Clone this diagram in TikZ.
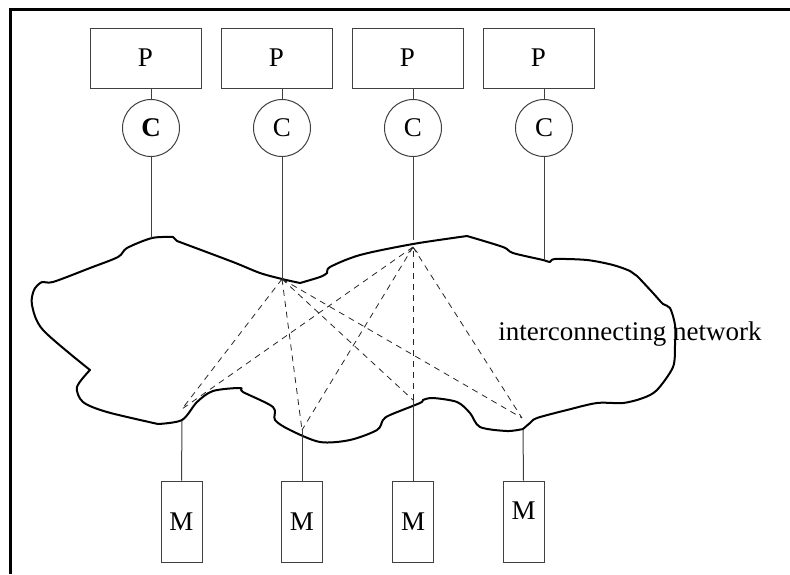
\documentclass[tikz,border=0pt]{standalone}
\usepackage{fontspec}
\setmainfont{Liberation Serif}
\usetikzlibrary{arrows.meta}
\tikzset{
    pbox/.style={draw=black!75, line width=1pt, minimum width=111pt, minimum height=60pt, inner sep=0pt},
    cnode/.style={circle, draw=black!75, line width=1pt, minimum size=57pt, inner sep=0pt},
    mbox/.style={draw=black!75, line width=1pt, minimum width=41pt, minimum height=81pt, inner sep=0pt},
    wire/.style={draw=black!75, line width=1pt},
    link/.style={black!85, line width=0.8pt, dash pattern=on 6pt off 5pt},
    netline/.style={line width=2pt, line join=round}
}

\begin{document}
\begin{tikzpicture}[x=1pt, y=-1pt, font=\fontsize{27}{30}\selectfont]
                        \useasboundingbox (0,0) rectangle (790,574);
                        \draw[line width=3pt] (790,9) -- (10,9) -- (10,574);

                        % processors and caches
                        \node[pbox] (p1) at (145.5,58) {P};
                        \node[pbox] (p2) at (276.5,58) {P};
                        \node[pbox] (p3) at (407.5,58) {P};
                        \node[pbox] (p4) at (538.5,58) {P};
                        \node[cnode] (c1) at (151,128) {\textbf{C}};
                        \node[cnode] (c2) at (282,128) {C};
                        \node[cnode] (c3) at (413,128) {C};
                        \node[cnode] (c4) at (544,128) {C};

                        % memories
                        \node[mbox] (m1) at (181.5,521.5) {M};
                        \node[mbox] (m2) at (302,521.5) {M};
                        \node[mbox] (m3) at (413,521.5) {M};
                        \node[mbox, text depth=22pt] (m4) at (523.5,521.5) {M};

                        % where the wires meet the network
                        \coordinate (t1) at (151,238);
                        \coordinate (hubA) at (282,279);
                        \coordinate (t3) at (413,240);
                        \coordinate (hubB) at (413,247);
                        \coordinate (t4) at (544,260);
                        \coordinate (d1) at (182,409);
                        \coordinate (d2) at (302,430);
                        \coordinate (d3) at (413,400);
                        \coordinate (d4) at (522,418);
                        \coordinate (b1) at (182,421);
                        \coordinate (b4) at (523,430);

                        \draw[netline] plot[smooth] coordinates {(90,370) (43,330) (32,305) (34,290) (42,282) (53,282) (90,268) (118,257) (127,248) (152,238) (173,237)}
                            -- (177,241)
                            -- plot[smooth] coordinates {(177,241) (233,262) (260,273) (282,279) (300,283)}
                            -- plot[smooth] coordinates {(300,283) (320,277) (327,273) (330,267) (360,255) (413,244) (467,236)}
                            -- plot[smooth] coordinates {(467,236) (503,247) (513,253) (543,260) (550,262) (555,259) (587,260) (613,265) (630,271) (637,276) (653,293) (663,304) (670,308) (675,325) (675,345) (673,367) (657,390) (643,398) (623,403) (597,403) (567,410) (537,418) (530,423) (523,429)}
                            -- plot[smooth] coordinates {(523,429) (507,431) (480,427) (470,413) (457,402) (433,398) (423,400) (420,403) (390,415) (383,420) (377,430) (350,440) (320,442) (290,430) (275,420) (273,407) (243,392) (240,388) (213,391) (197,402) (182,420) (158,424)}
                            -- plot[smooth] coordinates {(158,424) (107,412) (83,402) (77,387) (90,370)}
                            -- cycle;
                        \node[anchor=base] (net) at (630,340) {interconnecting network};

                        \draw[wire] (c1.north) -- (c1.north |- p1.south);
                        \draw[wire] (c2.north) -- (c2.north |- p2.south);
                        \draw[wire] (c3.north) -- (c3.north |- p3.south);
                        \draw[wire] (c4.north) -- (c4.north |- p4.south);
                        \draw[wire] (c1.south) -- (t1);
                        \draw[wire] (c2.south) -- (hubA);
                        \draw[wire] (c3.south) -- (t3);
                        \draw[wire] (c4.south) -- (t4);
                        \draw[wire] (m1.north) -- (b1);
                        \draw[wire] (m2.north) -- (d2);
                        \draw[wire] (m3.north) -- (d3);
                        \draw[wire] (m4.north) -- (b4);

                        \draw[link]
                        (hubA) -- (d1)
                        (hubA) -- (d2)
                        (hubA) -- (d3)
                        (hubA) -- (d4)
                        (hubB) -- (d1)
                        (hubB) -- (d2)
                        (hubB) -- (d4);
                        \draw[link, -{Straight Barb[length=5pt, width=9pt]}] (d3) -- (hubB);
                    \end{tikzpicture}
\end{document}
